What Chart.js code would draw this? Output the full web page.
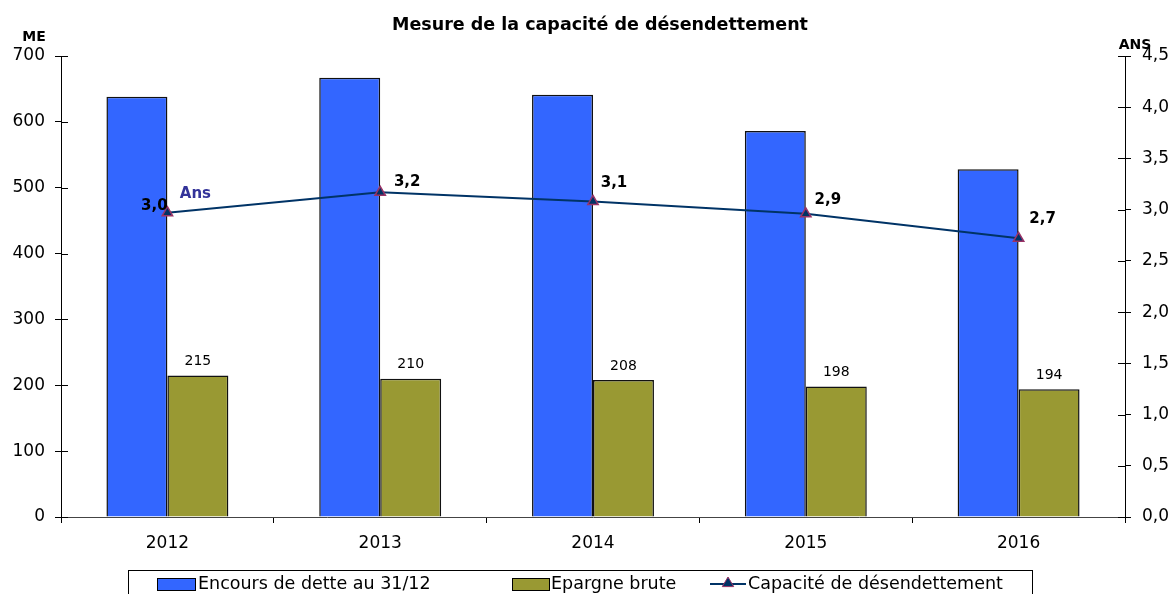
<!DOCTYPE html>
<html>
<head>
<meta charset="utf-8">
<script src="https://cdn.jsdelivr.net/npm/chart.js@4"></script>
<style>
  html, body { margin: 0; padding: 0; background: #fff; }
  canvas { display: block; }
</style>
</head>
<body>
<canvas id="chart" width="1173" height="594"></canvas>
<script>
// ==================== DATA ====================
const years = ['2012', '2013', '2014', '2015', '2016'];
const encoursDette = [638, 667, 641, 586, 528];
const epargneBrute = [215, 210, 208, 198, 194];
const capacite = [2.97, 3.17, 3.08, 2.96, 2.72];
const capaciteLabels = ['3,0', '3,2', '3,1', '2,9', '2,7'];
const leftTicks = [0, 100, 200, 300, 400, 500, 600, 700];
const rightTicks = [0, 0.5, 1, 1.5, 2, 2.5, 3, 3.5, 4, 4.5];

const FONT = '"DejaVu Sans", "Liberation Sans", Arial, sans-serif';
const BLUE = '#3366FF';
const OLIVE = '#999933';
const NAVY = '#003366';
const MARKER_BORDER = '#993366';

// label offsets around the line points (dx, dy)
const lineLabelOffsets = [[-13, -7], [27, -10], [21, -18], [22, -14], [24, -19]];

function drawTriangle(ctx, x, y, r) {
    ctx.beginPath();
    ctx.moveTo(x, y - r);
    ctx.lineTo(x + r * 0.95, y + r * 0.6);
    ctx.lineTo(x - r * 0.95, y + r * 0.6);
    ctx.closePath();
    ctx.fill();
    ctx.stroke();
}

// title, axis units, bar/line labels, inner tick marks, legend box
const decorPlugin = {
    id: 'decor',
    afterDraw(chart) {
        const ctx = chart.ctx;
        const area = chart.chartArea;
        const y = chart.scales.y;
        const y1 = chart.scales.y1;
        ctx.save();

        // title + units
        ctx.fillStyle = '#000';
        ctx.textAlign = 'center';
        ctx.textBaseline = 'middle';
        ctx.font = 'bold 17.5px ' + FONT;
        ctx.fillText('Mesure de la capacité de désendettement', 600, 25);
        ctx.font = 'bold 14px ' + FONT;
        ctx.fillText('ME', 34, 37);
        ctx.fillText('ANS', 1135, 45);

        // tick marks crossing into the plot area
        ctx.strokeStyle = '#000';
        ctx.lineWidth = 1;
        leftTicks.forEach(v => {
            const py = Math.round(y.getPixelForValue(v)) + 0.5;
            ctx.beginPath();
            ctx.moveTo(area.left, py);
            ctx.lineTo(area.left + 7, py);
            ctx.stroke();
        });
        rightTicks.forEach(v => {
            const py = Math.round(y1.getPixelForValue(v)) + 0.5;
            ctx.beginPath();
            ctx.moveTo(area.right - 7, py);
            ctx.lineTo(area.right, py);
            ctx.stroke();
        });

        // epargne labels above olive bars
        ctx.font = '14px ' + FONT;
        ctx.fillStyle = '#000';
        chart.getDatasetMeta(1).data.forEach((bar, i) => {
            ctx.fillText(String(epargneBrute[i]), bar.x, bar.y - 14);
        });

        // capacity labels near the line points
        ctx.font = 'bold 15px ' + FONT;
        chart.getDatasetMeta(2).data.forEach((pt, i) => {
            const [dx, dy] = lineLabelOffsets[i];
            ctx.fillText(capaciteLabels[i], pt.x + dx, pt.y + dy);
        });
        const first = chart.getDatasetMeta(2).data[0];
        ctx.fillStyle = '#333399';
        ctx.font = 'bold 15px ' + FONT;
        ctx.fillText('Ans', first.x + 28, first.y - 19);

        // legend
        ctx.strokeStyle = '#000';
        ctx.lineWidth = 1;
        ctx.strokeRect(128.5, 570.5, 904, 30);
        ctx.font = '17.5px ' + FONT;
        ctx.textAlign = 'left';
        const ly = 584;
        ctx.fillStyle = BLUE;
        ctx.fillRect(157, ly - 6, 38, 12);
        ctx.strokeRect(157.5, ly - 5.5, 38, 12);
        ctx.fillStyle = '#000';
        ctx.fillText(chart.data.datasets[0].label, 198, ly);
        ctx.fillStyle = OLIVE;
        ctx.fillRect(512, ly - 6, 37, 12);
        ctx.strokeRect(512.5, ly - 5.5, 37, 12);
        ctx.fillStyle = '#000';
        ctx.fillText(chart.data.datasets[1].label, 551, ly);
        ctx.strokeStyle = NAVY;
        ctx.lineWidth = 2;
        ctx.beginPath();
        ctx.moveTo(710, ly);
        ctx.lineTo(746, ly);
        ctx.stroke();
        ctx.fillStyle = NAVY;
        ctx.strokeStyle = MARKER_BORDER;
        ctx.lineWidth = 1;
        drawTriangle(ctx, 728, ly - 1, 6);
        ctx.fillStyle = '#000';
        ctx.fillText(chart.data.datasets[2].label, 748, ly);

        ctx.restore();
    }
};

const ctx = document.getElementById('chart').getContext('2d');
new Chart(ctx, {
    data: {
        labels: years,
        datasets: [
            {
                type: 'bar',
                label: 'Encours de dette au 31/12',
                data: encoursDette,
                backgroundColor: BLUE,
                borderColor: '#111',
                borderWidth: 1.5,
                yAxisID: 'y',
                order: 2,
                categoryPercentage: 0.573,
                barPercentage: 1
            },
            {
                type: 'bar',
                label: 'Epargne brute',
                data: epargneBrute,
                backgroundColor: OLIVE,
                borderColor: '#111',
                borderWidth: 1.5,
                yAxisID: 'y',
                order: 2,
                categoryPercentage: 0.573,
                barPercentage: 1
            },
            {
                type: 'line',
                label: 'Capacité de désendettement',
                data: capacite,
                borderColor: NAVY,
                borderWidth: 2,
                tension: 0,
                pointStyle: 'triangle',
                pointRadius: 6,
                pointBackgroundColor: NAVY,
                pointBorderColor: MARKER_BORDER,
                pointBorderWidth: 1.5,
                yAxisID: 'y1',
                order: 1
            }
        ]
    },
    options: {
        responsive: false,
        animation: false,
        layout: { padding: { top: 56, bottom: 0, left: 0, right: 0 } },
        plugins: {
            legend: { display: false },
            title: { display: false },
            tooltip: { enabled: false }
        },
        scales: {
            x: {
                offset: true,
                grid: {
                    display: true,
                    offset: true,
                    drawOnChartArea: false,
                    tickLength: 6,
                    color: '#000'
                },
                border: { display: true, color: '#444', width: 1 },
                ticks: { color: '#000', font: { family: FONT, size: 17 }, padding: 10 },
                afterFit(scale) { scale.height = 77; }
            },
            y: {
                position: 'left',
                min: 0,
                max: 700,
                afterBuildTicks(scale) { scale.ticks = leftTicks.map(v => ({ value: v })); },
                grid: { drawOnChartArea: false, tickLength: 6, color: '#000' },
                border: { display: true, color: '#000', width: 1 },
                ticks: { color: '#000', font: { family: FONT, size: 17 }, padding: 10 },
                afterFit(scale) { scale.width = 61; }
            },
            y1: {
                position: 'right',
                min: 0,
                max: 4.5,
                afterBuildTicks(scale) { scale.ticks = rightTicks.map(v => ({ value: v })); },
                grid: { drawOnChartArea: false, tickLength: 6, color: '#000' },
                border: { display: true, color: '#000', width: 1 },
                ticks: {
                    color: '#000',
                    font: { family: FONT, size: 17 },
                    padding: 11,
                    callback: v => v.toFixed(1).replace('.', ',')
                },
                afterFit(scale) { scale.width = 48; }
            }
        }
    },
    plugins: [decorPlugin]
});
</script>
</body>
</html>
